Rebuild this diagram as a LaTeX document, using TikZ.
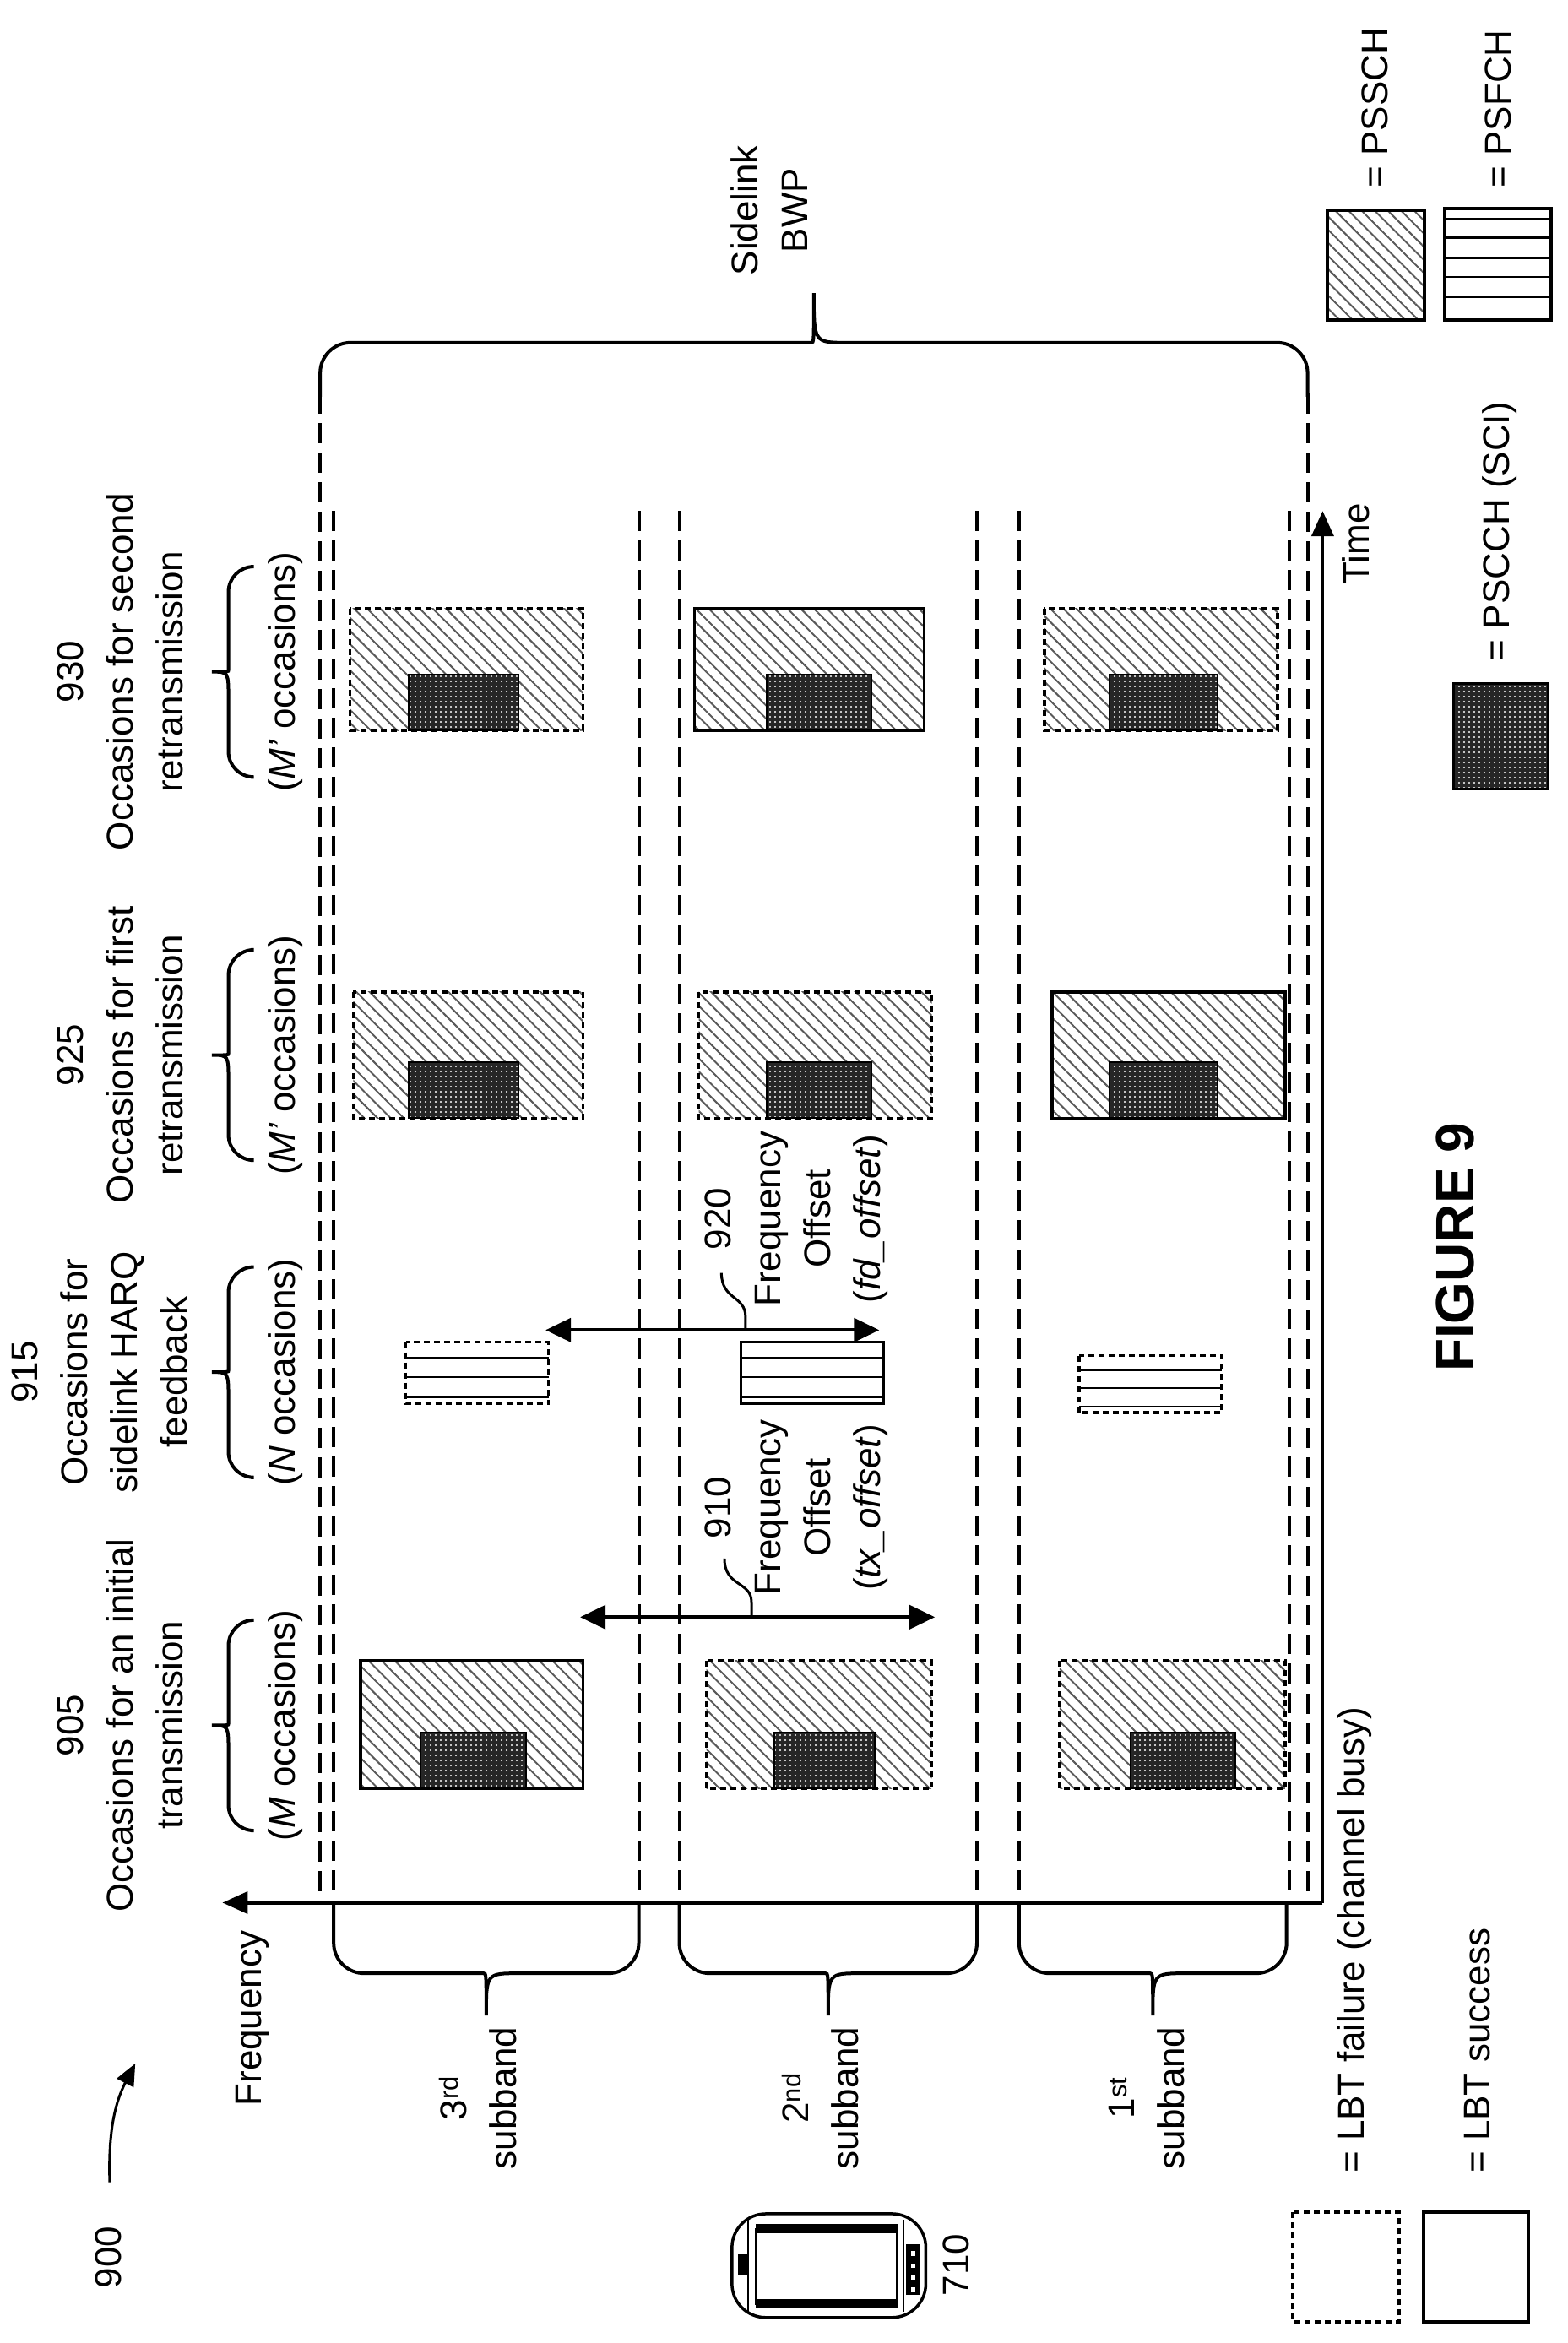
\documentclass[tikz,border=0pt]{standalone}
\usepackage{fontspec}
\setmainfont{Liberation Sans}
\usetikzlibrary{arrows.meta,patterns.meta}
\begin{document}
\begin{tikzpicture}[x=1.78pt,y=-1.78pt,
  txt/.style={font=\fontsize{44}{59}\selectfont, rotate=90, align=center, inner sep=0pt},
  ok/.style={line width=3.5pt},
  busy/.style={line width=3.5pt, dash pattern=on 7pt off 5pt},
  grid/.style={line width=4pt, dash pattern=on 24pt off 11pt},
  brace/.style={line width=4pt},
  axis/.style={line width=4pt},
  dbl/.style={line width=4pt, {Triangle[length=30pt,width=28pt]}-{Triangle[length=30pt,width=28pt]}},
  hatch/.style={pattern={Lines[angle=-45,distance=11pt,line width=2pt]}, pattern color=black!65},
  darkfill/.style={fill=black!85},
  dots/.style={pattern={Dots[distance=6pt,radius=1.1pt]}, pattern color=white}]
\useasboundingbox (0,0) rectangle (1043.26,1558.99);
% macros
\newcommand\psschbox[5]{% x1 x2 y1 y2 style
  \fill[hatch] (#1,#3) rectangle (#2,#4);
  \draw[#5] (#1,#3) rectangle (#2,#4);}
\newcommand\pscchbox[4]{%
  \fill[darkfill] (#1,#3) rectangle (#2,#4);
  \fill[dots] (#1,#3) rectangle (#2,#4);
  \draw[line width=2pt] (#1,#3) rectangle (#2,#4);}
\newcommand\psfchbox[5]{%
  \draw[#5] (#1,#3) rectangle (#2,#4);
  \foreach \f in {0.25,0.57,0.89} \draw[line width=2.5pt] (#1,{#3+\f*(#4-#3)}) -- (#2,{#3+\f*(#4-#3)});}
% horizontal brace spanning x: xa xb yend yh ytip
\newcommand\hbrace[5]{%
  \draw[brace,rounded corners=36pt] (#1,#3) -- (#1,#4) -- ({(#1+#2)/2-22},#4) [sharp corners] .. controls ({(#1+#2)/2},#4) .. ({(#1+#2)/2},#5) .. controls ({(#1+#2)/2},#4) .. ({(#1+#2)/2+22},#4) [rounded corners=36pt] -- (#2,#4) -- (#2,#3);}
% vertical brace spanning y: ya yb xend xh xtip
\newcommand\vbrace[5]{%
  \draw[brace,rounded corners=30pt] (#3,#1) -- (#4,#1) -- (#4,{(#1+#2)/2-18}) [sharp corners] .. controls (#4,{(#1+#2)/2}) .. (#5,{(#1+#2)/2}) .. controls (#4,{(#1+#2)/2}) .. (#4,{(#1+#2)/2+18}) [rounded corners=30pt] -- (#4,#2) -- (#3,#2);}

% grid lines
\foreach \x in {213,870} \draw[grid] (\x,262) -- (\x,1264);
\foreach \x in {222,425,452,650,678,858} \draw[grid] (\x,340) -- (\x,1264);

% axes
\coordinate (o) at (880,1266);
\coordinate (fend) at (148,1266);
\coordinate (tend) at (880,340);
\draw[axis,-{Triangle[length=30pt,width=26pt]}] (o) -- (fend);
\draw[axis,-{Triangle[length=30pt,width=26pt]}] (o) -- (tend);
\node[txt] (freq) at (168,1343) {Frequency};
\node[txt] (time) at (902,362) {Time};

% Sidelink BWP brace
\hbrace{213}{870}{264}{228}{195}
\node[txt] (bwp) at (512,140) {Sidelink\\BWP};

% subband braces
\hbrace{222}{425}{1266}{1313}{1341}
\hbrace{452}{650}{1266}{1313}{1341}
\hbrace{678}{856}{1266}{1313}{1341}
\node[txt] (sb3) at (318,1396) {3$^{\mathrm{rd}}$\\subband};
\node[txt] (sb2) at (546,1396) {2$^{\mathrm{nd}}$\\subband};
\node[txt] (sb1) at (763,1396) {1$^{\mathrm{st}}$\\subband};

% column braces and labels
\vbrace{1078}{1218}{167}{152}{141}
\vbrace{843}{983}{167}{152}{141}
\vbrace{632}{772}{167}{152}{141}
\vbrace{377}{517}{167}{152}{141}
\node[txt] (l905) at (80,1148) {905\\Occasions for an initial\\transmission};
\node[txt] (l915) at (66,913) {915\\Occasions for\\sidelink HARQ\\feedback};
\node[txt] (l925) at (80,702) {925\\Occasions for first\\retransmission};
\node[txt] (l930) at (80,447) {930\\Occasions for second\\retransmission};
\node[txt] (n905) at (190,1148) {(\textit{M} occasions)};
\node[txt] (n915) at (190,913) {(\textit{N} occasions)};
\node[txt] (n925) at (190,702) {(\textit{M’} occasions)};
\node[txt] (n930) at (190,447) {(\textit{M’} occasions)};

% column 1: initial transmission
\psschbox{240}{388}{1105}{1190}{ok}   \pscchbox{280}{350}{1153}{1190}
\psschbox{470}{620}{1105}{1190}{busy} \pscchbox{515}{582}{1153}{1190}
\psschbox{705}{855}{1105}{1190}{busy} \pscchbox{752}{822}{1153}{1190}
% column 2: PSFCH
\psfchbox{270}{365}{893}{934}{busy}
\psfchbox{493}{588}{893}{934}{ok}
\psfchbox{718}{813}{902}{940}{busy}
% column 3
\psschbox{235}{388}{660}{744}{busy} \pscchbox{272}{345}{707}{744}
\psschbox{465}{620}{660}{744}{busy} \pscchbox{510}{580}{707}{744}
\psschbox{700}{855}{660}{744}{ok}   \pscchbox{738}{810}{707}{744}
% column 4
\psschbox{233}{388}{405}{486}{busy} \pscchbox{272}{345}{449}{486}
\psschbox{462}{615}{405}{486}{ok}   \pscchbox{510}{580}{449}{486}
\psschbox{695}{850}{405}{486}{busy} \pscchbox{738}{810}{449}{486}

% frequency offsets
\coordinate (a1) at (386,1076); \coordinate (a2) at (622,1076);
\draw[dbl] (a1) -- (a2);
\coordinate (b1) at (363,885); \coordinate (b2) at (585,885);
\draw[dbl] (b1) -- (b2);
\node[txt] (o910) at (530,1003) {910\\Frequency\\Offset\\(\textit{tx\_offset})};
\node[txt] (o920) at (530,811) {920\\Frequency\\Offset\\(\textit{fd\_offset})};
\coordinate (t1) at (500,1076);
\coordinate (t2) at (482,1037);
\draw[line width=3pt] (t1) -- (500,1066) .. controls (500,1052) and (482,1056) .. (t2);
\coordinate (u1) at (496,885);
\coordinate (u2) at (480,847);
\draw[line width=3pt] (u1) -- (496,876) .. controls (496,862) and (480,865) .. (u2);

% 900 reference
\node[txt] (r900) at (72,1502) {900};
\coordinate (c1) at (73,1452);
\coordinate (c2) at (90,1373);
\draw[line width=3pt,-{Triangle[length=26pt,width=22pt]}] (c1) .. controls (72,1420) and (76,1400) .. (c2);

% phone 710
\draw[line width=3.5pt,rounded corners=40pt] (487,1473) rectangle (616,1542);
\draw[line width=2pt] (498,1477) -- (498,1538);
\draw[line width=2pt] (601,1477) -- (601,1538);
\fill (503,1480) rectangle (597,1486);
\fill (503,1530) rectangle (597,1536);
\draw[line width=2.5pt] (503,1483) rectangle (597,1533);
\fill (491,1500) rectangle (497,1514);
\fill (603,1493) rectangle (612,1527);
\foreach \yy in {1498,1506,1514,1522} \fill[white] (606,\yy) rectangle (609,{\yy+3});
\node[txt] (r710) at (636,1507) {710};

% legends
\draw[busy] (860,1472) rectangle (931,1545);
\node[txt,anchor=west] (lbtf) at (901,1446) {= LBT failure (channel busy)};
\draw[line width=4pt] (947,1472) rectangle (1017,1545);
\node[txt,anchor=west] (lbts) at (983,1446) {= LBT success};

\psschbox{883}{948}{140}{213}{line width=4pt}
\node[txt,anchor=west] (lpssch) at (915,125) {= PSSCH};
\draw[line width=4pt] (961,139) rectangle (1032,213);
\foreach \f in {0.09,0.26,0.44,0.61,0.79} \draw[line width=2.5pt] (961,{139+\f*74}) -- (1032,{139+\f*74});
\node[txt,anchor=west] (lpsfch) at (997,125) {= PSFCH};
\fill[darkfill] (967,455) rectangle (1030,525);
\fill[dots] (967,455) rectangle (1030,525);
\draw[line width=3pt] (967,455) rectangle (1030,525);
\node[txt,anchor=west] (lpscch) at (998,440) {= PSCCH (SCI)};

\node[rotate=90,font=\bfseries\fontsize{64}{70}\selectfont,inner sep=0pt] (fig) at (968,830) {FIGURE 9};
\end{tikzpicture}
\end{document}
